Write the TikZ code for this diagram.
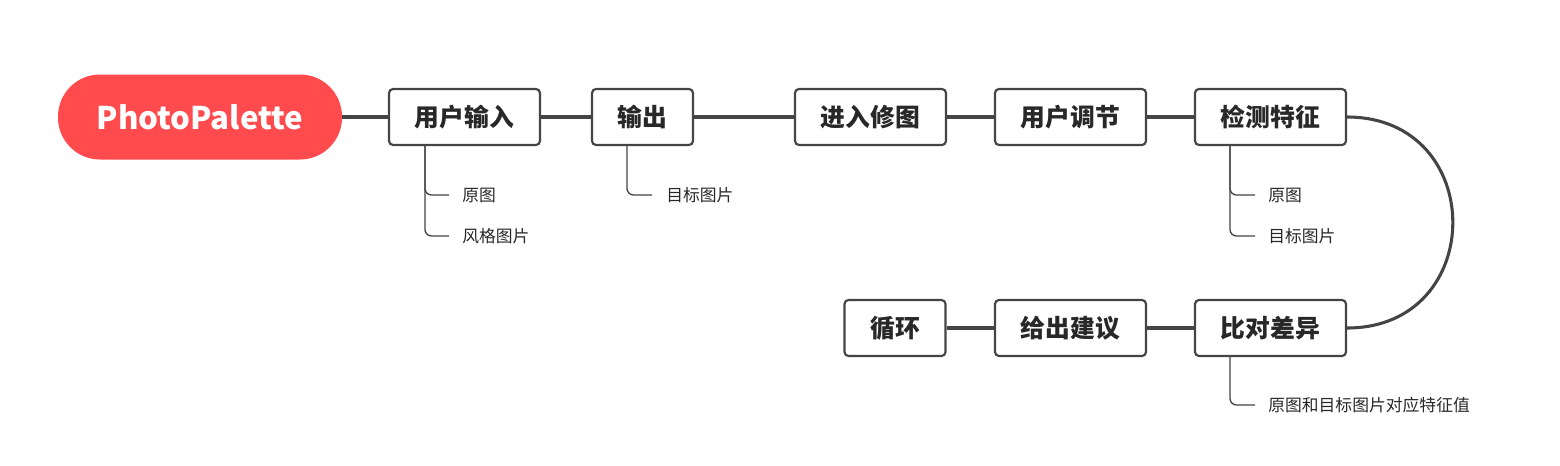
\documentclass[tikz,border=0pt]{standalone}
\usepackage{fontspec}
\setmainfont{Noto Sans CJK SC}
\usetikzlibrary{calc}
\definecolor{rootred}{RGB}{255,75,78}
\definecolor{linegray}{RGB}{68,68,68}
\definecolor{textdark}{RGB}{40,40,40}
\begin{document}
\begin{tikzpicture}[x=0.75pt,y=-0.75pt,
  stepbox/.style={draw=linegray,line width=1.6pt,rounded corners=3pt,fill=white,
    minimum width=151*0.75pt,minimum height=56*0.75pt,inner sep=0pt,
    font=\fontsize{18.6pt}{21pt}\selectfont\bfseries,text=textdark},
  smallbox/.style={stepbox,minimum width=101*0.75pt},
  rootbox/.style={fill=rootred,rounded corners=42*0.75pt,minimum width=284*0.75pt,
    minimum height=85*0.75pt,inner sep=0pt,text=white,
    font=\fontsize{23.4pt}{27pt}\selectfont\bfseries},
  mainline/.style={draw=linegray,line width=2.3pt},
  subline/.style={draw=linegray,line width=1pt,rounded corners=5pt},
  leaf/.style={inner sep=0pt,anchor=west,text=textdark,font=\fontsize{12.6pt}{15pt}\selectfont}]
\useasboundingbox (0,0) rectangle (1560,465);
% main nodes
\node[rootbox] (root) at (200,117) {PhotoPalette};
\node[stepbox] (n1) at (464.5,117) {用户输入};
\node[smallbox] (n2) at (642.5,117) {输出};
\node[stepbox] (n3) at (870.5,117) {进入修图};
\node[stepbox] (n4) at (1070.5,117) {用户调节};
\node[stepbox] (n5) at (1270.5,117) {检测特征};
\node[stepbox] (n6) at (1270.5,328) {比对差异};
\node[stepbox] (n7) at (1070.5,328) {给出建议};
\node[smallbox] (n8) at (895,328) {循环};
% main connectors
\draw[mainline] (root.east) -- (n1.west);
\draw[mainline] (n1.east) -- (n2.west);
\draw[mainline] (n2.east) -- (n3.west);
\draw[mainline] (n3.east) -- (n4.west);
\draw[mainline] (n4.east) -- (n5.west);
\draw[mainline] (n5.east) .. controls ($(n5.east)+(141,0)$) and ($(n6.east)+(141,0)$) .. (n6.east);
\draw[mainline] (n6.west) -- (n7.east);
\draw[mainline] (n7.west) -- (n8.east);
% leaves
\node[leaf] (l1a) at (462,195) {原图};
\node[leaf] (l1b) at (462,236) {风格图片};
\node[leaf] (l2a) at (666,195) {目标图片};
\node[leaf] (l5a) at (1268,195) {原图};
\node[leaf] (l5b) at (1268,236) {目标图片};
\node[leaf] (l6a) at (1268,405) {原图和目标图片对应特征值};
% branch anchors
\coordinate (b1) at ($(n1.south west)+(37,0)$);
\coordinate (b2) at ($(n2.south west)+(36,0)$);
\coordinate (b5) at ($(n5.south west)+(36,0)$);
\coordinate (b6) at ($(n6.south west)+(36,0)$);
\draw[subline] (b1) |- ($(l1a.west)+(-13,0)$);
\draw[subline] (b1) |- ($(l1b.west)+(-13,0)$);
\draw[subline] (b2) |- ($(l2a.west)+(-14,0)$);
\draw[subline] (b5) |- ($(l5a.west)+(-13,0)$);
\draw[subline] (b5) |- ($(l5b.west)+(-13,0)$);
\draw[subline] (b6) |- ($(l6a.west)+(-13,0)$);
\end{tikzpicture}
\end{document}
